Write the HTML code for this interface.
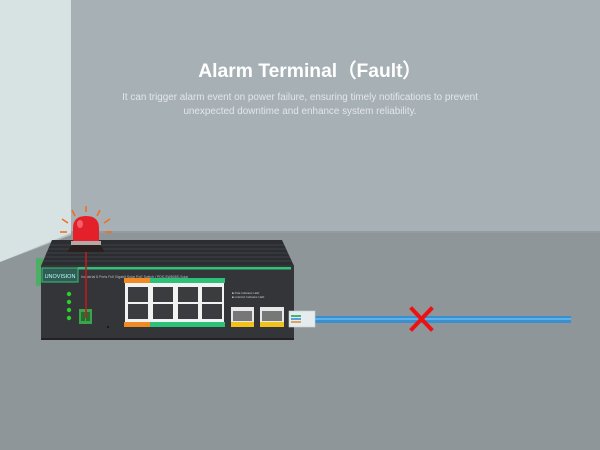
<!DOCTYPE html>
<html><head><meta charset="utf-8"><style>
html,body{margin:0;padding:0;width:600px;height:450px;overflow:hidden;background:#8f9699}
svg{display:block}
</style></head><body>
<svg width="600" height="450" viewBox="0 0 600 450" xmlns="http://www.w3.org/2000/svg" font-family="Liberation Sans, sans-serif">
<rect width="600" height="450" fill="#8f9699"/>
<rect width="600" height="231" fill="#a6b0b5"/>
<polygon points="0,0 71,0 71,235 0,262" fill="#d7e3e3"/>
<polygon points="0,262 71,235 71,231 600,231 600,233 71,233" fill="#9aa2a6" opacity="0.5"/>
<text x="310" y="77" text-anchor="middle" font-size="19.3" font-weight="bold" fill="#ffffff">Alarm Terminal（Fault）</text>
<text x="300" y="100" text-anchor="middle" font-size="9.9" fill="#e3e7e9">It can trigger alarm event on power failure, ensuring timely notifications to prevent</text>
<text x="300" y="114" text-anchor="middle" font-size="9.9" fill="#e3e7e9">unexpected downtime and enhance system reliability.</text>
<!-- switch -->
<rect x="36" y="258" width="7" height="28" fill="#4caf63"/>
<polygon points="52,240 282,240 294,266 41,266" fill="#2b2d31"/>
<g stroke="#45484d" stroke-width="0.8">
<line x1="50" y1="245" x2="284" y2="245"/><line x1="48" y1="249" x2="286" y2="249"/><line x1="46" y1="253" x2="288" y2="253"/><line x1="45" y1="257" x2="290" y2="257"/><line x1="43" y1="261" x2="292" y2="261"/>
</g>
<rect x="41" y="265" width="253" height="75" fill="#333538"/>
<rect x="41" y="338" width="253" height="2" fill="#222"/>
<rect x="78" y="267" width="213" height="2.5" fill="#33c07a"/>
<rect x="42" y="268" width="36" height="14" fill="#2f5c55" stroke="#39c27c" stroke-width="1"/>
<text x="60" y="278" text-anchor="middle" font-size="5.5" fill="#bfe" >UNOVISION</text>
<text x="81" y="278" font-size="3.5" fill="#bbb">Industrial 8 Ports Full Gigabit Solar PoE Switch | PDS-SW808S-Solar</text>
<g fill="#2bd02b"><circle cx="69" cy="294" r="2.2"/><circle cx="69" cy="302" r="2.2"/><circle cx="69" cy="310" r="2.2"/><circle cx="69" cy="318" r="2.2"/></g>
<rect x="79" y="309" width="13" height="15" fill="#3aa44c"/>
<rect x="81" y="312" width="4" height="9" fill="#256e30"/><rect x="86" y="312" width="4" height="9" fill="#256e30"/>
<circle cx="108" cy="327" r="1" fill="#111"/>
<!-- ports -->
<rect x="124" y="278" width="26" height="5" fill="#f08a23"/>
<rect x="150" y="278" width="75" height="5" fill="#2cc07a"/>
<rect x="124" y="322" width="26" height="5" fill="#f08a23"/>
<rect x="150" y="322" width="75" height="5" fill="#2cc07a"/>
<rect x="125" y="283" width="99" height="39" fill="#f2f2f2"/>
<g fill="#3a3c3f">
<rect x="128" y="287" width="20" height="15"/><rect x="153" y="287" width="20" height="15"/><rect x="178" y="287" width="20" height="15"/><rect x="202" y="287" width="20" height="15"/>
<rect x="128" y="304" width="20" height="15"/><rect x="153" y="304" width="20" height="15"/><rect x="178" y="304" width="20" height="15"/><rect x="202" y="304" width="20" height="15"/>
</g>
<!-- SFP -->
<rect x="231" y="307" width="23" height="20" fill="#e8e8e8"/><rect x="233" y="311" width="19" height="10" fill="#777"/><rect x="231" y="322" width="23" height="5" fill="#f2c21a"/>
<rect x="260" y="307" width="24" height="20" fill="#e8e8e8"/><rect x="262" y="311" width="20" height="10" fill="#777"/><rect x="260" y="322" width="24" height="5" fill="#f2c21a"/>
<text x="232" y="294" font-size="3" fill="#ccc">■ PoE Indicator LED</text>
<text x="232" y="298" font-size="3" fill="#ccc">■ Link/Act Indicator LED</text>
<!-- cable -->
<rect x="315" y="316" width="256" height="7" fill="#3a8fcf"/>
<rect x="315" y="318" width="256" height="2" fill="#5fb0e6"/>
<rect x="289" y="311" width="26" height="16" fill="#e6ecee" stroke="#c9d0d3" stroke-width="0.6"/>
<rect x="291" y="315" width="10" height="2" fill="#3cb878"/><rect x="291" y="318" width="10" height="2" fill="#5aa0e0"/><rect x="291" y="321" width="10" height="2" fill="#e0a060"/>
<g stroke="#ee1111" stroke-width="4" stroke-linecap="square"><line x1="412" y1="309" x2="431" y2="329"/><line x1="431" y1="309" x2="412" y2="329"/></g>
<!-- alarm -->
<line x1="86" y1="250" x2="86" y2="318" stroke="#c41820" stroke-width="1.6"/>
<g stroke="#f07020" stroke-width="1.6">
<line x1="86" y1="206" x2="86" y2="212"/><line x1="72" y1="210" x2="75" y2="216"/><line x1="100" y1="210" x2="97" y2="216"/>
<line x1="62" y1="219" x2="68" y2="223"/><line x1="110" y1="219" x2="104" y2="223"/><line x1="60" y1="232" x2="67" y2="232"/><line x1="112" y1="232" x2="105" y2="232"/>
</g>
<path d="M73,244 L73,228 Q73,216 86,216 Q99,216 99,228 L99,244 Z" fill="#e4202a"/>
<ellipse cx="80" cy="224" rx="3" ry="4" fill="#f26068"/>
<rect x="71" y="241" width="30" height="4" fill="#b4a8a8"/>
<polygon points="72,245 100,245 105,252 67,252" fill="#2a2020"/>
</svg>
</body></html>
